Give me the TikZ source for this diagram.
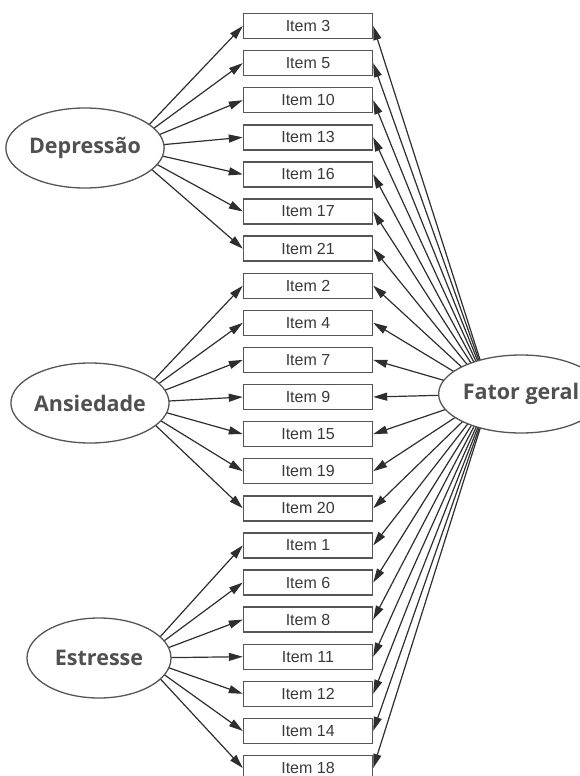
\documentclass[tikz,border=0pt]{standalone}
\usepackage{fontspec}
\setmainfont{Liberation Sans}
\newfontfamily\factorfont{Open Sans}
\usetikzlibrary{shapes.geometric,arrows.meta,calc}
\definecolor{boxline}{HTML}{555555}
\definecolor{itemtext}{HTML}{3A3A3A}
\definecolor{factortext}{HTML}{505050}
\definecolor{edgecol}{HTML}{2E2E2E}
\pgfdeclarelayer{edges}
\pgfsetlayers{edges,main}
\tikzset{
  itembox/.style={draw=boxline, line width=1.4pt, fill=white, rectangle,
    minimum width=129pt, minimum height=25pt, inner sep=0pt,
    text=itemtext, font=\fontsize{16}{16}\selectfont},
  latent/.style={draw=boxline, line width=1.3pt, fill=white, ellipse,
    minimum width=144pt, minimum height=80pt, inner sep=0pt,
    text=factortext, font=\factorfont\bfseries\fontsize{21.5}{21.5}\selectfont},
  loading/.style={draw=edgecol, line width=1.2pt,
    -{Triangle[length=14pt,width=8pt]}}
}
\begin{document}
\begin{tikzpicture}[x=1pt,y=-1pt]
\useasboundingbox (0,0) rectangle (579,776);

% observed items, top to bottom
\foreach \lab [count=\k from 0] in {3,5,10,13,16,17,21,2,4,7,9,15,19,20,1,6,8,11,12,14,18}
  \node[itembox] (i\lab) at (308,{26+37.1*\k}) {Item \lab};

% latent factors
\node[latent] (dep) at (85,148) {Depressão};
\node[latent] (ans) at (90,403) {Ansiedade};
\node[latent] (est) at (99,658) {Estresse};
\node[latent, minimum width=150pt, minimum height=78pt] (fg) at (521,394) {Fator geral};

% focal points inside each ellipse; the white fill hides the inner part of the edges
\coordinate (depf) at ($(dep.center)+(42,0)$);
\coordinate (ansf) at ($(ans.center)+(42,0)$);
\coordinate (estf) at ($(est.center)+(42,0)$);
\coordinate (fgf)  at ($(fg.center)+(-30,0)$);

\begin{pgfonlayer}{edges}
% specific factor loadings
\foreach \t in {3,5,10,13,16,17,21} \draw[loading] (depf) -- (i\t.west);
\foreach \t in {2,4,7,9,15,19,20} \draw[loading] (ansf) -- (i\t.west);
\foreach \t in {1,6,8,11,12,14,18} \draw[loading] (estf) -- (i\t.west);
% general factor loadings
\foreach \t in {3,5,10,13,16,17,21,2,4,7,9,15,19,20,1,6,8,11,12,14,18}
  \draw[loading] (fgf) -- (i\t.east);
\end{pgfonlayer}
\end{tikzpicture}
\end{document}
